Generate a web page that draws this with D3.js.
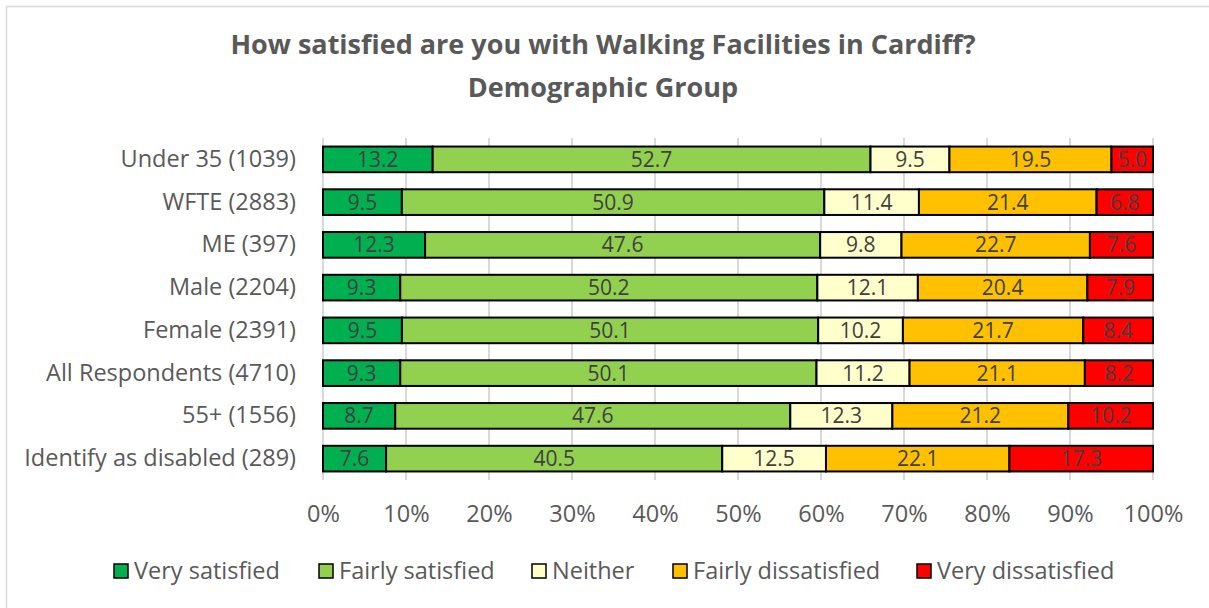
<!DOCTYPE html>
<html>
<head>
<meta charset="utf-8">
<script src="https://cdn.jsdelivr.net/npm/d3@7"></script>
<style>
  body { margin: 0; background: #fff; }
  text { font-family: "Open Sans", "Noto Sans", sans-serif; }
</style>
</head>
<body>
<div id="chart"></div>
<script>
// categories, top to bottom
const groups = [
    "Under 35 (1039)", "WFTE (2883)", "ME (397)", "Male (2204)",
    "Female (2391)", "All Respondents (4710)", "55+ (1556)", "Identify as disabled (289)"
];
const seriesNames = ["Very satisfied", "Fairly satisfied", "Neither", "Fairly dissatisfied", "Very dissatisfied"];
const seriesColours = ["#00B050", "#92D050", "#FFFFCC", "#FFC000", "#FF0000"];

// values per series, same order as groups
const verySatisfied = [13.2, 9.5, 12.3, 9.3, 9.5, 9.3, 8.7, 7.6];
const fairlySatisfied = [52.7, 50.9, 47.6, 50.2, 50.1, 50.1, 47.6, 40.5];
const neither = [9.5, 11.4, 9.8, 12.1, 10.2, 11.2, 12.3, 12.5];
const fairlyDissatisfied = [19.5, 21.4, 22.7, 20.4, 21.7, 21.1, 21.2, 22.1];
const veryDissatisfied = [5.0, 6.8, 7.6, 7.9, 8.4, 8.2, 10.2, 17.3];

const xTicks = [0, 0.1, 0.2, 0.3, 0.4, 0.5, 0.6, 0.7, 0.8, 0.9, 1];
const titleLines = ["How satisfied are you with Walking Facilities in Cardiff?", "Demographic Group"];

const allSeries = [verySatisfied, fairlySatisfied, neither, fairlyDissatisfied, veryDissatisfied];
const table = groups.map((g, i) => {
    const row = { group: g };
    seriesNames.forEach((s, j) => { row[s] = allSeries[j][i]; });
    return row;
});

const width = 1209, height = 608;
const svg = d3.select("#chart").append("svg")
    .attr("width", width)
    .attr("height", height);

// outer chart border
svg.append("rect")
    .attr("x", 6.5).attr("y", 6.5)
    .attr("width", width + 10).attr("height", height + 10)
    .style("fill", "none")
    .style("stroke", "#d9d9d9")
    .style("stroke-width", 1.5);

svg.append("text")
    .attr("text-anchor", "middle")
    .style("font-size", "27px")
    .style("font-weight", "bold")
    .style("fill", "#595959")
    .selectAll("tspan")
    .data(titleLines)
    .join("tspan")
    .attr("x", 603)
    .attr("y", (d, i) => 54 + i * 43)
    .text(d => d);

const x = d3.scaleLinear().domain([0, 1]).range([323, 1153]);
const y = d3.scaleBand().domain(groups).range([138, 480]).paddingInner(0.4).paddingOuter(0.2);

const stacked = d3.stack()
    .keys(seriesNames)
    .offset(d3.stackOffsetExpand)(table);

// gridlines
svg.append("g")
    .selectAll("line")
    .data(xTicks)
    .join("line")
    .attr("x1", d => x(d)).attr("x2", d => x(d))
    .attr("y1", 138).attr("y2", 480)
    .style("stroke", "#d9d9d9")
    .style("stroke-width", 2);

// x axis labels
const xAxis = svg.append("g")
    .attr("transform", "translate(0, 480)")
    .call(d3.axisBottom(x).tickValues(xTicks).tickFormat(d3.format(".0%")).tickSize(0).tickPadding(25));
xAxis.select(".domain").remove();
xAxis.selectAll("text")
    .style("font-size", "23.5px")
    .style("fill", "#595959")
    .style("font-family", "'Open Sans', sans-serif");

// y axis labels
const yAxis = svg.append("g")
    .attr("transform", "translate(323, 0)")
    .call(d3.axisLeft(y).tickSize(0).tickPadding(27));
yAxis.select(".domain").remove();
yAxis.selectAll("text")
    .style("font-size", "23.5px")
    .style("fill", "#595959")
    .style("font-family", "'Open Sans', sans-serif");

// the bars
const layers = svg.append("g")
    .selectAll("g")
    .data(stacked)
    .join("g")
    .style("fill", (d, i) => seriesColours[i]);

layers.selectAll("rect")
    .data(d => d)
    .join("rect")
    .attr("x", d => x(d[0]))
    .attr("y", d => y(d.data.group))
    .attr("width", d => x(d[1]) - x(d[0]))
    .attr("height", y.bandwidth())
    .style("stroke", "#000")
    .style("stroke-width", 2);

// value labels
stacked.forEach(layer => {
    svg.append("g")
        .selectAll("text")
        .data(layer)
        .join("text")
        .attr("x", d => (x(d[0]) + x(d[1])) / 2)
        .attr("y", d => y(d.data.group) + y.bandwidth() / 2)
        .attr("text-anchor", "middle")
        .attr("dy", "0.36em")
        .style("font-size", "21px")
        .style("fill", "#404040")
        .text(d => d.data[layer.key].toFixed(1));
});

// legend
const legendX = [114, 319, 532, 673, 917];
const legend = svg.append("g")
    .selectAll("g")
    .data(seriesNames)
    .join("g")
    .attr("transform", (d, i) => `translate(${legendX[i]}, 571)`);

legend.append("rect")
    .attr("x", 0).attr("y", -7)
    .attr("width", 14).attr("height", 14)
    .style("fill", (d, i) => seriesColours[i])
    .style("stroke", "#000")
    .style("stroke-width", 1.5);

legend.append("text")
    .attr("x", 20)
    .attr("dy", "0.36em")
    .style("font-size", "23.5px")
    .style("fill", "#595959")
    .text(d => d);
</script>
</body>
</html>
